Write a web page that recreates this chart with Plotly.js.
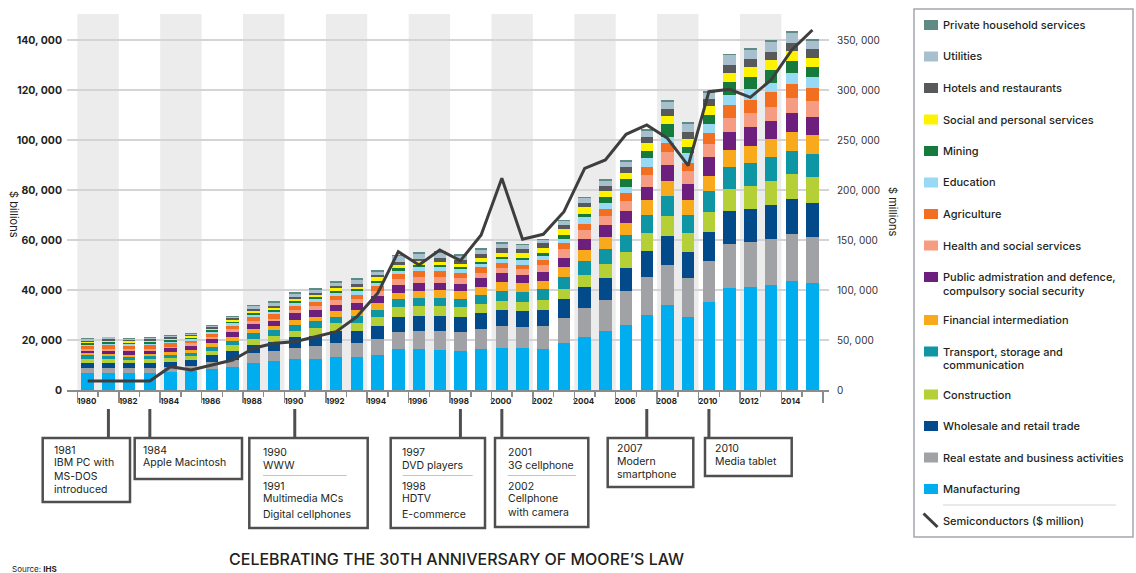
<!DOCTYPE html>
<html>
<head>
<meta charset="utf-8">
<script src="https://cdn.plot.ly/plotly-3.0.1.min.js"></script>
<style>
  html, body { margin: 0; padding: 0; background: #ffffff; }
  #chart { width: 1136px; height: 573px; }
</style>
</head>
<body>
<div id="chart"></div>
<script>
// ---- Data: world GDP by sector ($ billions) and semiconductor revenue ($ millions) ----
const years = [1980,1981,1982,1983,1984,1985,1986,1987,1988,1989,
               1990,1991,1992,1993,1994,1995,1996,1997,1998,1999,
               2000,2001,2002,2003,2004,2005,2006,2007,2008,2009,
               2010,2011,2012,2013,2014,2015];

const manufacturing = [6930,6930,6670,6670,7070,7600,8270,9070,10930,11470,
  12270,12530,13330,13330,14130,16270,16400,16130,15730,16270,
  16930,16930,16530,18930,21330,23730,26130,29870,34000,29330,
  35330,40930,41330,42000,43600,42670];
const realEstate = [1870,1870,2000,2000,2000,2000,2800,2930,3740,4000,
  4660,5070,5340,5600,6400,6930,7200,7470,7600,8130,
  8800,8400,9200,9870,11470,12400,13340,15330,16130,15340,
  16400,17340,17740,18400,18670,18660];
const wholesale = [2130,2130,2000,2000,2260,2270,2800,3800,3460,3860,
  4140,4130,4800,4800,5070,6000,6130,6130,6000,6270,
  6400,6270,6270,7470,8270,8670,9460,10400,11600,10660,
  11600,13330,13200,13600,14000,13600];
const construction = [1600,1600,1460,1600,1470,1730,1860,2130,2140,2400,
  2660,3200,3200,3200,3470,3870,3870,3870,3740,3730,
  3600,3730,4000,4130,4930,5730,6140,7200,7870,7340,
  7870,8670,9460,9600,10000,10400];
const transport = [1340,1070,1200,1200,1330,1330,1600,1870,2400,2270,
  2270,2670,2660,2670,2930,3200,3330,3330,3460,3730,
  3870,3870,4270,4930,5470,6000,6800,7200,8130,7460,
  8400,9060,9200,9470,9330,9070];
const financial = [800,800,800,930,940,1070,1340,1330,1730,1600,
  2130,1730,2270,2400,2670,2660,2670,2940,2940,3070,
  3470,3470,3460,3740,4400,4540,4800,6000,5870,5870,
  6130,6670,6800,7330,7600,7730];
const publicAdmin = [1060,1330,1470,1330,1600,1600,1600,2000,2000,2130,
  2540,2670,2400,2670,2930,3200,3330,2930,3060,3470,
  3600,3330,3600,3730,4530,4800,5060,5330,6270,6270,
  7600,7330,7340,7330,7470,7200];
const health = [800,670,670,800,660,1070,1060,1200,1070,800,
  1200,1470,1870,1730,1870,2140,2270,2270,2400,2260,
  2000,2270,2540,3470,3730,3860,4000,4800,5200,5330,
  5070,5600,5860,5600,6260,6270];
const agriculture = [1070,1470,1330,1340,1340,1060,1070,1470,1730,1870,
  1860,1730,1730,1730,2000,2000,2270,2400,2000,2140,
  2130,1860,2130,2400,2400,2540,2940,3200,3600,3200,
  4270,5200,5070,5870,5340,5330];
const education = [530,530,670,660,530,670,930,930,800,800,
  1070,1330,1330,1340,1330,1460,1860,1860,1600,1460,
  1600,1870,1730,1860,2540,2530,2530,3470,2660,3870,
  3730,4000,4400,3730,4400,4140];
const mining = [540,800,530,540,670,530,670,670,670,800,
  800,670,800,800,800,940,670,800,670,800,
  800,930,1070,1340,1460,2270,3070,2930,4940,2660,
  3730,5070,4930,5070,5060,4000];
const social = [530,530,670,660,660,670,530,800,930,800,
  800,800,940,1060,1470,1460,1470,1200,1070,1600,
  1730,1740,2130,2400,2540,2400,2400,2940,3330,3200,
  3600,3730,4000,4000,3870,3860];
const hotels = [530,540,530,540,540,400,540,530,800,800,
  930,930,1060,1070,1060,1070,1060,1470,1730,1340,
  1740,1730,1740,1730,1860,2260,2400,2660,2800,2800,
  2670,3070,3200,3330,3330,3340];
const utilities = [800,800,530,530,660,530,660,670,1070,1330,
  1070,1070,1200,1600,1200,2400,1870,1870,1600,1730,
  1730,1470,1330,1600,1870,2000,2130,2400,2800,3200,
  2530,3870,3470,4000,4000,3460];
const privateHousehold = [400,260,400,400,400,400,400,400,400,540,
  670,670,540,670,670,600,670,1060,670,800,
  800,660,530,400,530,670,800,800,800,540,
  800,530,670,670,670,800];

// Semiconductor revenue, $ millions (right axis)
const semiconductors = [9000,9000,9000,9000,23300,20000,25000,30000,41700,46700,
  48300,53300,58300,73300,96700,138300,125000,140000,129300,155000,
  211700,150700,155700,178300,221700,230000,255700,265000,251700,224300,
  298300,300700,292700,310000,340000,360000];

// Stack order, bottom to top
const sectorNames = [
  'Manufacturing',
  'Real estate and business activities',
  'Wholesale and retail trade',
  'Construction',
  'Transport, storage and<br>communication',
  'Financial intermediation',
  'Public admistration and defence,<br>compulsory social security',
  'Health and social services',
  'Agriculture',
  'Education',
  'Mining',
  'Social and personal services',
  'Hotels and restaurants',
  'Utilities',
  'Private household services'
];
const sectorValues = [manufacturing, realEstate, wholesale, construction, transport,
  financial, publicAdmin, health, agriculture, education, mining, social, hotels,
  utilities, privateHousehold];
const sectorColors = ['#00aeef','#a1a2a6','#034a8a','#b5cf36','#0e96a4','#f9a91c',
  '#6c1f7d','#f69c83','#f26f22','#98d9f3','#157a3c','#fff200','#58595b','#a8c0cd','#5e8b83'];
const lineName = 'Semiconductors ($ million)';

const leftTicks = [0,20000,40000,60000,80000,100000,120000,140000];
const leftTickText = ['0','20, 000','40, 000','60, 000','80, 000','100, 000','120, 000','140, 000'];
const rightTicks = [0,50000,100000,150000,200000,250000,300000,350000];
const rightTickText = ['0','50, 000','100, 000','150, 000','200, 000','250, 000','300, 000','350, 000'];
const labelYears = [1980,1982,1984,1986,1988,1990,1992,1994,1996,1998,2000,2002,2004,2006,2008,2010,2012,2014];
const labelText = labelYears.map(String);

// Technology milestones: attachment year, box [x0, x1, y0, y1] in px, text column, lines [text, y]
const milestones = [
  {at: 1981, box: [42.7,130,438,502], tx: 54.3,
   lines: [['1981',450],['IBM PC with',463],['MS-DOS',476],['introduced',489]]},
  {at: 1983, box: [134.7,242,438,479], tx: 143.3,
   lines: [['1984',450],['Apple Macintosh',463]]},
  {at: 1990, box: [249.3,367.7,438,528], tx: 263.3, rule: [263,346.7,475.5],
   lines: [['1990',452.5],['WWW',465.5],['1991',486],['Multimedia MCs',499],['Digital cellphones',514.5]]},
  {at: 1998, box: [390.7,485,438,528], tx: 402.3, rule: [402.7,472.7,475.5],
   lines: [['1997',452.5],['DVD players',465.5],['1998',486],['HDTV',499],['E-commerce',514.5]]},
  {at: 2000, box: [495,588.3,438,527], tx: 507.7, rule: [507.7,576,475.5],
   lines: [['2001',452.5],['3G cellphone',465.5],['2002',486],['Cellphone',499],['with camera',512]]},
  {at: 2007, box: [607.7,693.3,438,487], tx: 617.3,
   lines: [['2007',448],['Modern',461],['smartphone',474]]},
  {at: 2010, box: [705,791.7,438,476], tx: 715,
   lines: [['2010',448],['Media tablet',461]]}
];

// ---- Geometry helpers (pixel -> paper) ----
const W = 1136, H = 573;
const M = {l: 67, r: 307, t: 14, b: 183};
const plotW = W - M.l - M.r;
const plotH = H - M.t - M.b;
const px = x => (x - M.l) / plotW;
const py = y => (H - M.b - y) / plotH;
const X_RANGE = [1979.5, 2016.3];

const FONT = "Inter, 'Open Sans', 'DejaVu Sans', sans-serif";
const INK = '#231f20';
const DARK = '#4f4f4f';
const AXIS_GREY = '#8c8c8c';

// ---- Traces ----
const barX = years.map(y => y + 0.5);
const traces = sectorValues.map((vals, i) => ({
  type: 'bar',
  x: barX,
  y: vals,
  width: 0.6,
  name: sectorNames[i].replace('<br>', ' '),
  marker: {color: sectorColors[i], line: {width: 0}},
  showlegend: false
}));
traces.push({
  type: 'scatter',
  mode: 'lines',
  x: barX,
  y: semiconductors,
  xaxis: 'x2',
  yaxis: 'y2',
  name: lineName,
  line: {color: '#3e3e3e', width: 3},
  showlegend: false
});

// ---- Shapes & annotations ----
const shapes = [];
const annotations = [];

// alternating year bands
for (let y = 1980; y <= 2012; y += 4) {
  shapes.push({type: 'rect', xref: 'x', yref: 'paper', x0: y, x1: y + 2, y0: 0, y1: 1,
    fillcolor: '#ececec', line: {width: 0}, layer: 'below'});
}

function textLine(x, y, text, font) {
  annotations.push({xref: 'paper', yref: 'paper', x: px(x), y: py(y), xanchor: 'left',
    yanchor: 'middle', text: text, showarrow: false, borderpad: 0, borderwidth: 0, font: font});
}

// legend panel
shapes.push({type: 'rect', xref: 'paper', yref: 'paper', x0: px(914), x1: px(1133),
  y0: py(537), y1: py(9), line: {color: '#a3a8ad', width: 1.5}, fillcolor: 'rgba(0,0,0,0)'});
const legendFont = {family: FONT, size: 11, color: INK, weight: 500};
let ly = 25;
for (let i = sectorNames.length - 1; i >= 0; i--) {
  const parts = sectorNames[i].split('<br>');
  shapes.push({type: 'rect', xref: 'paper', yref: 'paper', x0: px(924), x1: px(938),
    y0: py(ly + 5), y1: py(ly - 5), fillcolor: sectorColors[i], line: {width: 0}});
  parts.forEach((p, k) => textLine(943, ly + k * 13.5, p, legendFont));
  ly += 31.5 + (parts.length - 1) * 11.5;
}
shapes.push({type: 'line', xref: 'paper', yref: 'paper', x0: px(943), x1: px(1116),
  y0: py(505), y1: py(505), line: {color: '#d4d4d4', width: 1}});
shapes.push({type: 'line', xref: 'paper', yref: 'paper', x0: px(923.5), x1: px(937.5),
  y0: py(513.5), y1: py(527), line: {color: '#3e3e3e', width: 3}});
textLine(943, ly, lineName, legendFont);

// milestone call-outs under the time axis
const calloutFont = {family: FONT, size: 10.5, color: INK};
milestones.forEach(m => {
  shapes.push({type: 'line', xref: 'x', yref: 'paper', x0: m.at + 0.5, x1: m.at + 0.5,
    y0: py(409), y1: py(438), line: {color: DARK, width: 3}});
  shapes.push({type: 'rect', xref: 'paper', yref: 'paper', x0: px(m.box[0]), x1: px(m.box[1]),
    y0: py(m.box[3]), y1: py(m.box[2]), line: {color: DARK, width: 2.5}, fillcolor: '#ffffff'});
  if (m.rule) {
    shapes.push({type: 'line', xref: 'paper', yref: 'paper', x0: px(m.rule[0]), x1: px(m.rule[1]),
      y0: py(m.rule[2]), y1: py(m.rule[2]), line: {color: '#c4c4c4', width: 1}});
  }
  m.lines.forEach(([t, y]) => textLine(m.tx, y, t, calloutFont));
});

// axis titles
annotations.push({xref: 'paper', yref: 'paper', x: px(14), y: py(215), xanchor: 'center',
  yanchor: 'middle', text: '$ billions', textangle: 90, showarrow: false,
  font: {family: FONT, size: 11, color: INK}});
annotations.push({xref: 'paper', yref: 'paper', x: px(893), y: py(212), xanchor: 'center',
  yanchor: 'middle', text: '$ millions', textangle: 90, showarrow: false,
  font: {family: FONT, size: 11, color: INK}});

// chart title & source
annotations.push({xref: 'paper', yref: 'paper', x: px(456), y: py(559), xanchor: 'center',
  yanchor: 'middle', text: 'CELEBRATING THE 30TH ANNIVERSARY OF MOORE’S LAW', showarrow: false,
  font: {family: FONT, size: 16, color: INK, weight: 500}});
annotations.push({xref: 'paper', yref: 'paper', x: px(10), y: py(569), xanchor: 'left',
  yanchor: 'middle', text: 'Source: <b>IHS</b>', showarrow: false,
  font: {family: FONT, size: 8, color: INK}});

const layout = {
  width: W, height: H,
  margin: {l: M.l, r: M.r, t: M.t, b: M.b, pad: 0},
  paper_bgcolor: '#ffffff',
  plot_bgcolor: 'rgba(0,0,0,0)',
  barmode: 'stack',
  showlegend: false,
  font: {family: FONT, color: INK},
  // year labels sit beside their boundary tick, over the bar of that year
  xaxis: {
    range: X_RANGE,
    tickmode: 'array', tickvals: labelYears.map(y => y + 0.45), ticktext: labelText,
    ticks: '', showline: true, linecolor: AXIS_GREY, linewidth: 1.5,
    showgrid: false, zeroline: false,
    tickfont: {family: FONT, size: 8, color: INK, weight: 700},
    ticklabelstandoff: 3
  },
  // year boundary ticks: long on even years, short on odd years
  xaxis2: {
    overlaying: 'x', anchor: 'y', side: 'bottom',
    range: X_RANGE,
    tickmode: 'linear', tick0: 1980, dtick: 2,
    ticks: 'outside', ticklen: 12, tickwidth: 1.5, tickcolor: AXIS_GREY,
    showticklabels: false, showline: false, showgrid: false, zeroline: false,
    minor: {tickmode: 'linear', tick0: 1981, dtick: 2, ticks: 'outside', ticklen: 6,
            tickwidth: 1.5, tickcolor: AXIS_GREY, showgrid: false}
  },
  yaxis: {
    range: [0, 150400],
    tickmode: 'array', tickvals: leftTicks, ticktext: leftTickText,
    ticks: '', showline: false, zeroline: false,
    showgrid: true, gridcolor: '#d3d3d8', gridwidth: 1.2,
    tickfont: {family: FONT, size: 10.5, color: INK, weight: 700},
    ticklabelstandoff: 4
  },
  yaxis2: {
    overlaying: 'y', side: 'right', anchor: 'x2',
    range: [0, 376000],
    tickmode: 'array', tickvals: rightTicks, ticktext: rightTickText,
    ticks: '', showline: false, zeroline: false, showgrid: false,
    tickfont: {family: FONT, size: 10, color: '#333333'},
    ticklabelstandoff: 7
  },
  shapes: shapes,
  annotations: annotations
};

Plotly.newPlot('chart', traces, layout, {displayModeBar: false, staticPlot: true});
</script>
</body>
</html>
